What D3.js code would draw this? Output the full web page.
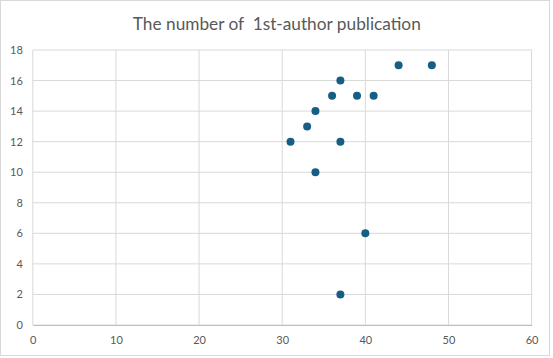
<!DOCTYPE html>
<html><head><meta charset="utf-8">
<script src="https://cdn.jsdelivr.net/npm/d3@7"></script>
<style>body{margin:0;background:#fff;} svg{display:block;}</style>
</head><body>
<svg id="c" width="553" height="358"></svg>
<script>
const xValues = [31, 33, 34, 34, 36, 37, 37, 37, 39, 41, 40, 44, 48];
const yValues = [12, 13, 14, 10, 15, 16, 12, 2, 15, 15, 6, 17, 17];
const xTicks = [0, 10, 20, 30, 40, 50, 60];
const yTicks = [0, 2, 4, 6, 8, 10, 12, 14, 16, 18];
const title = "The number of\u00a0 1st-author publication";

const svg = d3.select("#c");
const W = 553, H = 358;
const m = {l: 32.8, r: 553 - 531.6, t: 50, b: 358 - 325};
svg.append("rect").attr("x", 0.5).attr("y", 0.5).attr("width", 549).attr("height", 355)
  .attr("fill", "#fff").attr("stroke", "#d9d9d9").attr("stroke-width", 1);

const x = d3.scaleLinear().domain([0, 60]).range([m.l, W - m.r]);
const y = d3.scaleLinear().domain([0, 18]).range([H - m.b, m.t]);

const font = "Lato, sans-serif";
const g = svg.append("g");
g.selectAll("line.h").data(yTicks).join("line").attr("class","h")
  .attr("x1", x(0)).attr("x2", x(60)).attr("y1", d => y(d)).attr("y2", d => y(d))
  .attr("stroke", "#d9d9d9").attr("stroke-width", 1);
g.selectAll("line.v").data(xTicks).join("line").attr("class","v")
  .attr("y1", y(0)).attr("y2", y(18)).attr("x1", d => x(d)).attr("x2", d => x(d))
  .attr("stroke", "#d9d9d9").attr("stroke-width", 1);

const xAxis = svg.append("g").attr("transform", `translate(0,${y(0)})`)
  .call(d3.axisBottom(x).tickValues(xTicks).tickSize(0).tickPadding(11));
const yAxis = svg.append("g").attr("transform", `translate(${x(0)},0)`)
  .call(d3.axisLeft(y).tickValues(yTicks).tickSize(0).tickPadding(10));
[xAxis, yAxis].forEach(a => {
  a.select(".domain").attr("stroke", "#bfbfbf");
  a.selectAll("text").attr("fill", "#595959").style("font-family", font).style("font-size", "11px");
});
yAxis.select(".domain").remove();

const t = svg.append("text").attr("x", 276.8).attr("y", 30).attr("text-anchor", "middle")
  .attr("fill", "#595959").style("font-family", font).style("font-size", "17px").text(title);
const len = t.node().getComputedTextLength();
t.style("font-size", (17 * 288 / len) + "px");

svg.append("g").selectAll("circle").data(xValues.map((v, i) => [v, yValues[i]])).join("circle")
  .attr("cx", d => x(d[0])).attr("cy", d => y(d[1])).attr("r", 4)
  .attr("fill", "#165e83");
</script>
</body></html>
